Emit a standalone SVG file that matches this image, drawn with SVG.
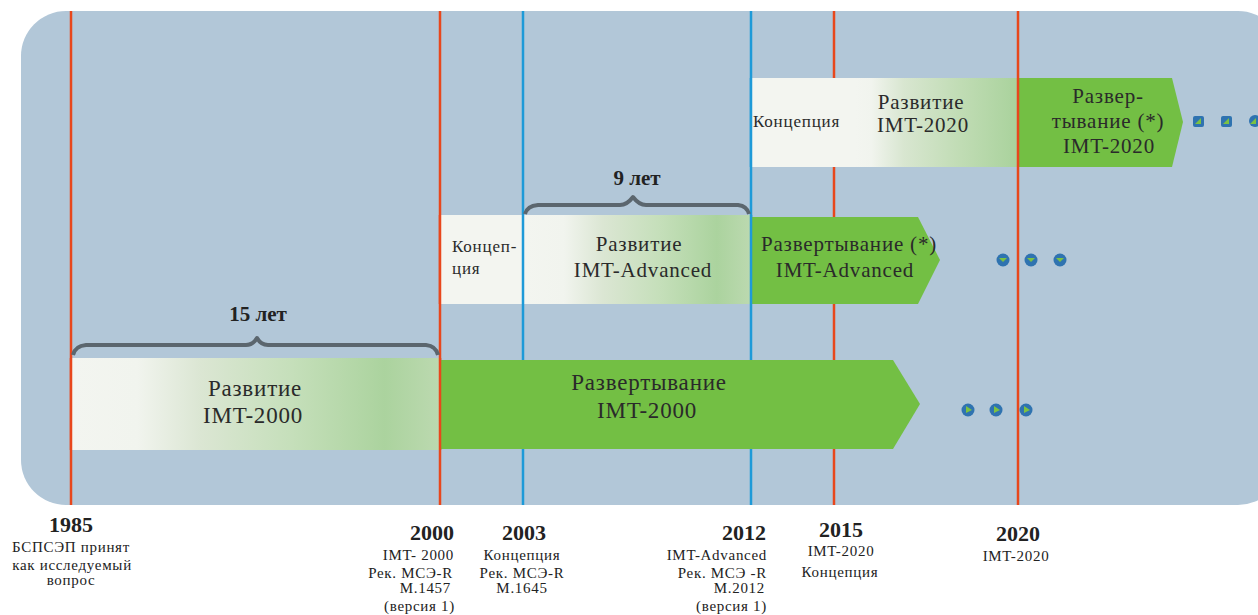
<svg xmlns="http://www.w3.org/2000/svg" width="1258" height="615" viewBox="0 0 1258 615">
<style>
.red{stroke:#e8471c;stroke-width:2.5}
.blue{stroke:#1e9ad8;stroke-width:2.5}
.band{fill:#2a2a2a;text-anchor:middle;letter-spacing:0.8px}
.yr{font-weight:bold;font-size:22px;fill:#222;text-anchor:middle}
.sub{font-size:15px;fill:#222;letter-spacing:0.7px}
.brace{fill:none;stroke:#5b666e;stroke-width:4;stroke-linejoin:round}
.dot{fill:#2f73b0}
.tri{fill:#7cc142}
.deploy{fill:#73bf44}
.concept{fill:#f3f5f0}
</style>
<defs>
<linearGradient id="dev" x1="0" y1="0" x2="1" y2="0">
<stop offset="0" stop-color="#f3f5f0"/>
<stop offset="0.18" stop-color="#f1f4ee"/>
<stop offset="0.35" stop-color="#dbe6d3"/>
<stop offset="0.6" stop-color="#c5dfba"/>
<stop offset="0.85" stop-color="#abd39e"/>
<stop offset="1" stop-color="#bcd9b0"/>
</linearGradient>
<linearGradient id="dev2" x1="0" y1="0" x2="1" y2="0">
<stop offset="0" stop-color="#f3f5f0"/>
<stop offset="0.1" stop-color="#f1f4ee"/>
<stop offset="0.3" stop-color="#d8e6d0"/>
<stop offset="0.65" stop-color="#c0dcb4"/>
<stop offset="1" stop-color="#a9d29c"/>
</linearGradient>
</defs>
<rect id="background" x="21" y="11" width="1262" height="494" rx="45" fill="#b2c7d8"/>
<g id="gridlines">
<line class="red" x1="71" y1="11" x2="71" y2="505"/>
<line class="red" x1="440" y1="11" x2="440" y2="505"/>
<line class="blue" x1="523" y1="11" x2="523" y2="505"/>
<line class="blue" x1="751" y1="11" x2="751" y2="505"/>
<line class="red" x1="834" y1="11" x2="834" y2="505"/>
<line class="red" x1="1018" y1="11" x2="1018" y2="505"/>
</g>
<g font-family="'Liberation Serif', 'Times New Roman', serif">
<g id="dev-imt2000">
<rect x="71" y="358" width="369" height="92" fill="url(#dev)"/>
<text class="band" font-size="23" x="255" y="396">Развитие</text>
<text class="band" font-size="23" x="253" y="423">IMT-2000</text>
</g>
<g id="deploy-imt2000">
<polygon class="deploy" points="440,360 893,360 920,404 893,449 440,449"/>
<text class="band" font-size="23" x="649" y="390">Развертывание</text>
<text class="band" font-size="23" x="647" y="418">IMT-2000</text>
</g>
<g id="concept-adv">
<rect class="concept" x="440" y="215" width="83" height="89"/>
<text class="band" font-size="17" x="452" y="252" style="text-anchor:start">Концеп-</text>
<text class="band" font-size="17" x="452" y="274" style="text-anchor:start">ция</text>
</g>
<g id="dev-adv">
<rect x="523" y="215" width="228" height="89" fill="url(#dev)"/>
<text class="band" font-size="21" x="639" y="251">Развитие</text>
<text class="band" font-size="21" x="643" y="277">IMT-Advanced</text>
</g>
<g id="deploy-adv">
<polygon class="deploy" points="751,217 918,217 940,260 918,304 751,304"/>
<text class="band" font-size="21" x="849" y="251">Развертывание (*)</text>
<text class="band" font-size="21" x="845" y="277">IMT-Advanced</text>
</g>
<g id="concept-2020">
<rect class="concept" x="751" y="78" width="104" height="89"/>
<text class="band" font-size="17" x="753" y="127" style="text-anchor:start">Концепция</text>
</g>
<g id="dev-2020">
<rect x="855" y="78" width="163" height="89" fill="url(#dev2)"/>
<text class="band" font-size="21" x="921" y="109">Развитие</text>
<text class="band" font-size="21" x="923" y="132">IMT-2020</text>
</g>
<g id="deploy-2020">
<polygon class="deploy" points="1018,78 1172,78 1183,122 1172,167 1018,167"/>
<text class="band" font-size="21" x="1108" y="103">Развер-</text>
<text class="band" font-size="21" x="1108" y="128">тывание (*)</text>
<text class="band" font-size="21" x="1109" y="153">IMT-2020</text>
</g>
<g id="boundaries">
<line class="red" x1="71" y1="358" x2="71" y2="450"/>
<line class="red" x1="440" y1="215" x2="440" y2="304"/>
<line class="red" x1="440" y1="358" x2="440" y2="450"/>
<line class="blue" x1="523" y1="215" x2="523" y2="304"/>
<line class="blue" x1="751" y1="215" x2="751" y2="304"/>
<line class="blue" x1="751" y1="78" x2="751" y2="167"/>
<line class="red" x1="1018" y1="78" x2="1018" y2="167"/>
</g>
<g id="connectors">
<path class="brace" d="M73,355 Q75,346 86,345 L246,345 Q253,345 257,338 Q261,345 268,345 L426,345 Q436,346 438,355"/>
<path class="brace" d="M525,214 Q527,206 538,205 L620,205 Q627,205 633,197 Q639,205 646,205 L738,205 Q747,206 749,214"/>
</g>
<g id="label-15"><text class="yr" x="258" y="321" style="font-size:21px">15 лет</text></g>
<g id="label-9"><text class="yr" x="637" y="185" style="font-size:21px">9 лет</text></g>
<g id="dots-row1">
<circle class="dot" cx="968" cy="410" r="6.5"/><path class="tri" d="M966,406 L972,410 L966,413 Z"/>
<circle class="dot" cx="996" cy="410" r="6.5"/><path class="tri" d="M994,406 L1000,410 L994,413 Z"/>
<circle class="dot" cx="1026" cy="410" r="6.5"/><path class="tri" d="M1024,406 L1030,410 L1024,413 Z"/>
</g>
<g id="dots-row2">
<circle class="dot" cx="1003" cy="260" r="6.5"/><path class="tri" d="M999,258 L1007,258 L1003,262 Z"/>
<circle class="dot" cx="1031" cy="260" r="6.5"/><path class="tri" d="M1027,258 L1035,258 L1031,262 Z"/>
<circle class="dot" cx="1060" cy="260" r="6.5"/><path class="tri" d="M1056,258 L1064,258 L1060,262 Z"/>
</g>
<g id="dots-row3">
<rect class="dot" x="1193" y="116" width="11" height="11" rx="2"/><path class="tri" d="M1195,124 L1201,118 L1201,124 Z"/>
<rect class="dot" x="1221" y="116" width="11" height="11" rx="2"/><path class="tri" d="M1223,124 L1229,118 L1229,124 Z"/>
<circle class="dot" cx="1255" cy="121" r="6"/><path class="tri" d="M1250,124 L1256,118 L1256,124 Z"/>
</g>
<g id="year-1985">
<text class="yr" x="71" y="532">1985</text>
<text class="sub" x="71" y="552" text-anchor="middle">БСПСЭП принят</text>
<text class="sub" x="72" y="570" text-anchor="middle">как исследуемый</text>
<text class="sub" x="71" y="585" text-anchor="middle">вопрос</text>
</g>
<g id="year-2000">
<text class="yr" x="454" y="540" style="text-anchor:end">2000</text>
<text class="sub" x="454" y="560" text-anchor="end">IMT- 2000</text>
<text class="sub" x="453" y="578" text-anchor="end">Рек. МСЭ-R</text>
<text class="sub" x="451" y="593" text-anchor="end">M.1457</text>
<text class="sub" x="455" y="611" text-anchor="end">(версия 1)</text>
</g>
<g id="year-2003">
<text class="yr" x="524" y="540">2003</text>
<text class="sub" x="522" y="560" text-anchor="middle">Концепция</text>
<text class="sub" x="522" y="578" text-anchor="middle">Рек. МСЭ-R</text>
<text class="sub" x="522" y="593" text-anchor="middle">M.1645</text>
</g>
<g id="year-2012">
<text class="yr" x="766" y="540" style="text-anchor:end">2012</text>
<text class="sub" x="767" y="560" text-anchor="end">IMT-Advanced</text>
<text class="sub" x="767" y="578" text-anchor="end">Рек. МСЭ -R</text>
<text class="sub" x="765" y="593" text-anchor="end">M.2012</text>
<text class="sub" x="767" y="611" text-anchor="end">(версия 1)</text>
</g>
<g id="year-2015">
<text class="yr" x="841" y="537">2015</text>
<text class="sub" x="841" y="556" text-anchor="middle">IMT-2020</text>
<text class="sub" x="840" y="577" text-anchor="middle">Концепция</text>
</g>
<g id="year-2020">
<text class="yr" x="1018" y="541">2020</text>
<text class="sub" x="1016" y="561" text-anchor="middle">IMT-2020</text>
</g>
</g>
</svg>
